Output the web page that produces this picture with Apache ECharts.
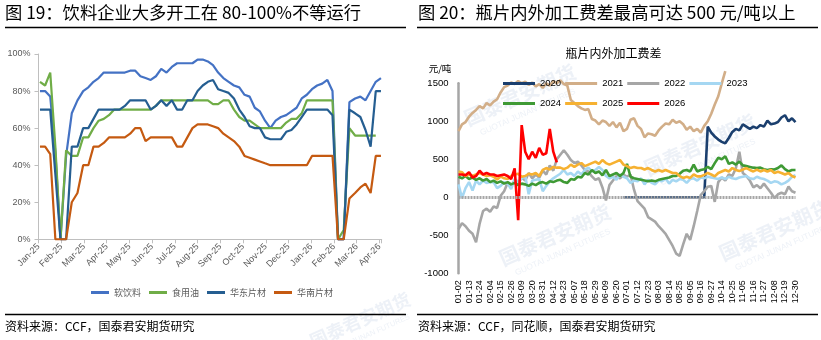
<!DOCTYPE html>
<html><head><meta charset="utf-8">
<script src="https://cdn.jsdelivr.net/npm/echarts@6/dist/echarts.min.js"></script>
<style>html,body{margin:0;padding:0;background:#fff}#c{width:821px;height:340px}</style>
</head><body><div id="c"></div>
<script>
// ---------- Left chart: 开工率 (weekly, from 2025-01-03) ----------
const monthLabels = ['Jan-25','Feb-25','Mar-25','Apr-25','May-25','Jun-25','Jul-25','Aug-25','Sep-25','Oct-25','Nov-25','Dec-25','Jan-26','Feb-26','Mar-26','Apr-26'];
const leftNames = ['软饮料','食用油','华东片材','华南片材'];
const softDrink = [80,80,77,47,0,45,68,75,80,82,85,87,90,90,90,90,90,91,91,88,87,86,88,92,90,93,95,95,95,95,97,97,96,94,90,87,85,83,82,78,77,71,69,64,60,64,66,67,69,71,76,78,81,83,84,86,80,0,0,74,76,77,75,80,85,87];
const edibleOil = [85,83,90,50,0,48,45,45,55,55,60,64,65,67,70,70,70,70,70,70,70,70,72,75,75,75,75,75,75,75,75,75,75,73,73,75,75,70,66,64,64,62,60,60,60,60,60,63,65,65,68,75,75,75,75,75,75,0,5,60,56,56,56,56,56];
const eastSheet = [70,70,70,35,0,0,50,50,60,60,65,70,70,70,70,70,72,75,75,75,75,70,72,75,72,75,70,70,75,75,80,83,85,86,81,80,79,76,70,66,61,60,60,55,54,54,54,58,59,62,66,70,70,70,70,70,67,0,0,70,68,66,59,50,80,80];
const southSheet = [50,50,46,0,0,0,20,25,40,40,50,50,52,55,55,55,55,57,60,60,53,55,55,55,55,55,50,50,55,60,62,62,62,61,60,57,55,53,50,45,44,43,42,41,40,40,40,40,40,40,40,40,45,45,45,45,45,0,0,22,25,28,30,25,45,45];
const leftYTicks = [0,20,40,60,80,100];

// ---------- Right chart: 瓶片内外加工费差 (元/吨) ----------
const dayLabels = ['01-02','01-13','01-24','02-04','02-15','02-26','03-09','03-20','03-31','04-12','04-23','05-07','05-18','05-29','06-09','06-20','07-01','07-12','07-23','08-03','08-14','08-25','09-05','09-16','09-27','10-14','10-25','11-05','11-16','11-27','12-08','12-19','12-30'];
const yearNames = ['2020','2021','2022','2023','2024','2025','2026'];
const y2020Start = 47;
const y2020 = [0,0,0,0,0,0,0,0,0,0,0,0,0,0,0,0,0,0,0,0,0,0,0,0,930,850,800,760,730,710,780,860,900,880,960,930,900,930,910,950,930,1010,960,970,990,1050,1080,1000,1040,990];
const y2021 = [870,960,990,1060,1110,1150,1200,1170,1240,1210,1260,1290,1380,1450,1470,1510,1490,1530,1500,1520,1480,1510,1460,1490,1440,1500,1470,1530,1500,1540,1490,1470,1280,1240,1200,1170,1150,1160,1030,1010,960,1010,990,940,990,920,980,870,900,1020,1040,940,900,790,840,830,810,880,930,970,960,1020,980,1000,960,890,930,870,900,850,940,1000,1100,1220,1330,1500,1660];
const y2022 = [-420,-340,-380,-440,-480,-590,-350,-180,-150,-190,-120,-140,20,80,190,150,220,180,260,220,320,250,300,260,350,300,420,350,500,560,620,560,490,450,470,420,360,340,275,230,250,130,-40,160,220,280,250,300,270,300,100,-50,-100,-150,-260,-290,-320,-380,-430,-480,-560,-640,-740,-770,-620,-480,-560,-380,-180,30,80,140,150,-60,200,260,220,300,280,380,600,320,280,220,130,160,120,180,120,60,-10,40,60,40,140,80,60];
const y2023 = [170,-10,120,200,90,220,170,220,190,200,200,120,150,200,180,110,240,200,250,280,40,220,230,240,80,150,210,250,280,310,360,300,320,280,340,300,360,390,340,360,400,360,280,250,270,230,300,270,250,190,220,210,250,170,230,190,170,220,210,250,180,230,210,240,230,190,240,250,220,260,250,270,260,250,240,260,240,270,250,240,260,270,280,250,240,270,250,240,220,190,210,200,170,190,220,270,290];
const y2024 = [270,250,280,240,260,230,250,220,240,200,220,190,210,180,200,170,190,160,180,170,150,180,160,190,200,180,210,200,220,230,200,190,240,230,270,260,320,300,360,320,340,290,360,280,300,320,280,320,440,270,250,240,230,220,210,220,210,230,240,250,260,280,280,310,350,360,340,430,340,360,370,400,370,450,520,500,540,440,460,430,470,420,410,400,390,385,390,370,360,370,365,385,420,370,340,360,360];
const y2025 = [340,330,280,300,280,300,320,300,280,290,270,235,275,250,240,280,300,310,270,280,310,300,320,280,360,385,365,400,390,390,370,390,430,400,430,450,410,430,450,470,440,490,450,430,450,470,490,430,410,385,400,385,385,365,385,360,340,360,340,360,340,320,320,280,255,270,255,300,275,275,295,320,300,275,320,340,360,340,385,360,345,365,385,360,340,365,340,360,340,360,320,335,320,300,320,280,260];
const y2026 = [300,300,290,330,260,280,350,300,320,300,300,280,290,300,280,240,380,-300,950,600,500,600,520,650,560,580,900,600,460];
const rightYTicks = [-1000,-500,0,500,1000,1500];

// ---------- build ----------
function weekMonthPos(k){
  const d = new Date(Date.UTC(2025,0,3+7*k));
  const y = d.getUTCFullYear(), m = d.getUTCMonth(), day = d.getUTCDate();
  const dim = new Date(Date.UTC(y,m+1,0)).getUTCDate();
  return (y-2025)*12 + m + (day-1)/dim;
}
const weekly = arr => arr.map((v,k)=>[weekMonthPos(k), v]);
const daily = (arr, start) => arr.map((v,i)=>[start+i, v]);

const leftColors = ['#4472C4','#70AD47','#255E91','#C55A11'];
const rightColors = ['#1B3F6E','#D2AE88','#A6A6A6','#A5D7F2','#3F9A35','#F6B131','#FF0000'];
const numFont = "'Liberation Sans', Arial, sans-serif";
const cjkFont = "'Noto Sans CJK SC', sans-serif";

const leftData = [softDrink, edibleOil, eastSheet, southSheet];
const rightData = [[y2020,y2020Start],[y2021,0],[y2022,0],[y2023,0],[y2024,0],[y2025,0],[y2026,0]];

const series = [];
leftData.forEach((arr,i)=>series.push({
  name: leftNames[i], type:'line', xAxisIndex:0, yAxisIndex:0,
  data: weekly(arr), showSymbol:false, symbol:'none',
  lineStyle:{width:2.2, color:leftColors[i]}, itemStyle:{color:leftColors[i]}
}));
rightData.forEach(([arr,start],i)=>{
  const s = {
    name: yearNames[i], type:'line', xAxisIndex:1, yAxisIndex:1,
    data: daily(arr,start), showSymbol:false, symbol:'none', clip: i!==1,
    lineStyle:{width:2.6, color:rightColors[i]}, itemStyle:{color:rightColors[i]}
  };
  if (i===0) s.markLine = {silent:true, symbol:'none', label:{show:false},
    lineStyle:{color:'#A6A6A6', width:3, type:[2,1]}, data:[{yAxis:0}]};
  series.push(s);
});

const wmColor = 'rgba(190,205,225,0.28)';
const wm = (x,y,size) => ({type:'group', x, y, rotation:0.42, silent:true, z:-1, children:[
  {type:'text', style:{text:'国泰君安期货', fontSize:size, fontWeight:'bold', fontFamily:cjkFont, fill:wmColor, align:'center', verticalAlign:'middle'}},
  {type:'text', y:size*0.95, style:{text:'GUOTAI JUNAN FUTURES', fontSize:size*0.42, fontFamily:numFont, fill:wmColor, align:'center', verticalAlign:'middle'}}
]});

const option = {
  animation:false,
  backgroundColor:'#fff',
  grid:[
    {left:38.5, top:54, width:343.2, height:185.3},
    {left:458.5, top:83.3, width:337, height:190}
  ],
  xAxis:[
    {gridIndex:0, type:'value', min:0, max:15.1, interval:1,
     axisLine:{lineStyle:{color:'#BFBFBF'}}, axisTick:{show:true,length:4,lineStyle:{color:'#BFBFBF'}},
     splitLine:{show:false},
     axisLabel:{rotate:45, fontSize:9, color:'#595959', fontFamily:numFont, margin:6,
       formatter:v=>{const r=Math.round(v); return (Math.abs(v-r)<1e-6 && monthLabels[r])?monthLabels[r]:'';}}},
    {gridIndex:1, type:'value', min:0, max:96, interval:3,
     axisLine:{show:false, onZero:false}, axisTick:{show:false}, splitLine:{show:false},
     axisLabel:{rotate:90, fontSize:9, color:'#000', fontFamily:numFont, margin:7,
       formatter:v=>(v%3===0 && dayLabels[v/3])?dayLabels[v/3]:''}}
  ],
  yAxis:[
    {gridIndex:0, type:'value', min:leftYTicks[0], max:leftYTicks[leftYTicks.length-1], interval:20,
     axisLine:{show:true, lineStyle:{color:'#BFBFBF'}}, axisTick:{show:true,length:4,lineStyle:{color:'#BFBFBF'}},
     splitLine:{show:false},
     axisLabel:{fontSize:9, color:'#595959', fontFamily:numFont, formatter:'{value}%'}},
    {gridIndex:1, type:'value', min:rightYTicks[0], max:rightYTicks[rightYTicks.length-1], interval:500,
     axisLine:{show:true, lineStyle:{color:'#A6A6A6', width:2.5}}, axisTick:{show:false},
     splitLine:{show:false},
     axisLabel:{fontSize:9.5, color:'#000', fontFamily:numFont, margin:10, formatter:v=>String(v)}}
  ],
  legend:[
    {data:leftNames, left:86, top:283, itemWidth:18, itemHeight:3, itemGap:8, icon:'rect',
     textStyle:{fontSize:9, color:'#595959', fontFamily:cjkFont}},
    {data:yearNames.slice(0,4), left:498, top:73.5, itemWidth:32, itemHeight:3, itemGap:4, icon:'rect',
     textStyle:{fontSize:9.5, color:'#000', fontFamily:numFont}},
    {data:yearNames.slice(4), left:498, top:93.5, itemWidth:32, itemHeight:3, itemGap:4, icon:'rect',
     textStyle:{fontSize:9.5, color:'#000', fontFamily:numFont}}
  ],
  graphic:[
    wm(520,95,20), wm(555,235,20), wm(700,145,20), wm(775,230,20), wm(360,320,18),
    {type:'text', left:5, top:4, style:{text:'图 19：饮料企业大多开工在 80-100%不等运行', fontSize:17.3, fontFamily:cjkFont, fill:'#000'}},
    {type:'text', left:418, top:4, style:{text:'图 20：瓶片内外加工费差最高可达 500 元/吨以上', fontSize:17.3, fontFamily:cjkFont, fill:'#000'}},
    {type:'line', shape:{x1:5,y1:27.5,x2:406,y2:27.5}, style:{stroke:'#000', lineWidth:1.5}},
    {type:'line', shape:{x1:417,y1:27.5,x2:818,y2:27.5}, style:{stroke:'#000', lineWidth:1.5}},
    {type:'line', shape:{x1:5,y1:314.5,x2:406,y2:314.5}, style:{stroke:'#000', lineWidth:1.5}},
    {type:'line', shape:{x1:417,y1:314.5,x2:818,y2:314.5}, style:{stroke:'#000', lineWidth:1.5}},
    {type:'text', left:5, top:320, style:{text:'资料来源：CCF，国泰君安期货研究', fontSize:12, fontFamily:cjkFont, fill:'#000'}},
    {type:'text', left:418, top:320, style:{text:'资料来源：CCF，同花顺，国泰君安期货研究', fontSize:12, fontFamily:cjkFont, fill:'#000'}},
    {type:'text', x:613.5, y:53.5, style:{text:'瓶片内外加工费差', fontSize:12, fontFamily:cjkFont, fill:'#000', align:'center', verticalAlign:'middle'}},
    {type:'text', x:440, y:68, style:{text:'元/吨', fontSize:9.5, fontFamily:cjkFont, fill:'#000', align:'center', verticalAlign:'middle'}}
  ],
  series
};
const chart = echarts.init(document.getElementById('c'), null, {renderer:'canvas'});
chart.setOption(option);
</script></body></html>
